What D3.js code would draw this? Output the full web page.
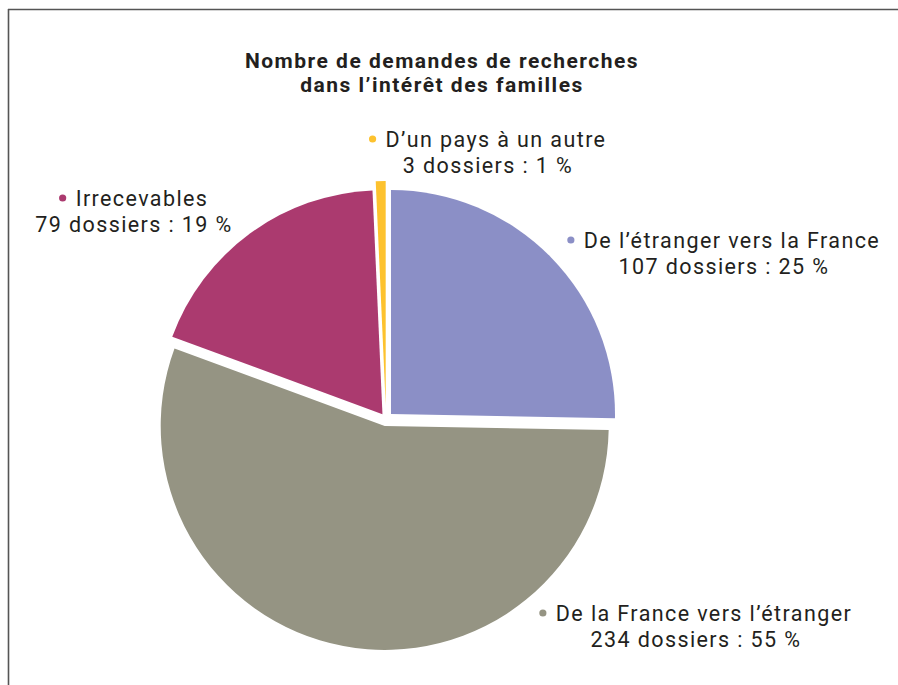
<!DOCTYPE html>
<html>
<head>
<meta charset="utf-8">
<script src="https://cdn.jsdelivr.net/npm/d3@7"></script>
<style>
  html, body { margin: 0; padding: 0; background: #fff; }
  svg { display: block; }
</style>
</head>
<body>
<svg id="chart"></svg>
<script>
// data
const categories = [
  "De l’étranger vers la France",
  "De la France vers l’étranger",
  "Irrecevables",
  "D’un pays à un autre"
];
const dossiers = [107, 234, 79, 3];
const percents = [25, 55, 19, 1];
const titleLines = ["Nombre de demandes de recherches", "dans l’intérêt des familles"];

// styling / layout
const colors = ["#8b8fc6", "#959483", "#ab3a6f", "#fdc22e"];
const explode = [7, 7, 6, 14];
const labelPos = [
  { x: 724, y: 248 },
  { x: 696, y: 621 },
  { x: 134, y: 206 },
  { x: 488, y: 147 }
];

const width = 898;
const height = 685;
const cx = 386, cy = 419, radius = 224;
const font = "Roboto, 'DejaVu Sans', sans-serif";
const labelSize = 21.5;
const lineGap = 25.5;

const svg = d3.select("#chart")
  .attr("width", width)
  .attr("height", height);

// frame (top and left rules)
svg.append("line")
  .attr("x1", 8).attr("x2", width)
  .attr("y1", 9.5).attr("y2", 9.5)
  .attr("stroke", "#555").attr("stroke-width", 1.6);
svg.append("line")
  .attr("x1", 8.5).attr("x2", 8.5)
  .attr("y1", 9).attr("y2", height)
  .attr("stroke", "#555").attr("stroke-width", 1.6);

// title
svg.append("g")
  .selectAll("text")
  .data(titleLines)
  .enter()
  .append("text")
  .attr("x", 442)
  .attr("y", (d, i) => 68 + i * 24)
  .attr("text-anchor", "middle")
  .attr("font-family", font)
  .attr("font-size", "21px")
  .attr("font-weight", "bold")
  .attr("letter-spacing", "1.5px")
  .attr("fill", "#231f20")
  .text(d => d);

const slices = categories.map((c, i) => ({
  name: c,
  value: dossiers[i],
  pct: percents[i],
  color: colors[i],
  offset: explode[i],
  label: labelPos[i]
}));

const pie = d3.pie()
  .sort(null)
  .value(d => d.value);

const arc = d3.arc()
  .innerRadius(0)
  .outerRadius(radius);

const arcs = pie(slices);

const g = svg.append("g")
  .attr("transform", `translate(${cx},${cy})`);

g.selectAll("path")
  .data(arcs)
  .enter()
  .append("path")
  .attr("d", arc)
  .attr("fill", d => d.data.color)
  .attr("transform", d => {
    const mid = (d.startAngle + d.endAngle) / 2;
    const dx = Math.sin(mid) * d.data.offset;
    const dy = -Math.cos(mid) * d.data.offset;
    return `translate(${dx},${dy})`;
  });

// labels: bullet + name, then count line
const bulletGap = 16;
const label = svg.selectAll(".lbl")
  .data(arcs)
  .enter()
  .append("g")
  .attr("class", "lbl");

label.each(function(d) {
  const sel = d3.select(this);
  const p = d.data.label;

  const name = sel.append("text")
    .attr("font-family", font)
    .attr("font-size", labelSize + "px")
    .attr("letter-spacing", "1.4px")
    .attr("fill", "#231f20")
    .attr("y", p.y)
    .text(d.data.name);

  const w = name.node().getComputedTextLength();
  const left = p.x - (w + bulletGap) / 2;
  name.attr("x", left + bulletGap);

  sel.append("circle")
    .attr("cx", left + 3)
    .attr("cy", p.y - 8)
    .attr("r", 3.6)
    .attr("fill", d.data.color);

  sel.append("text")
    .attr("x", p.x)
    .attr("y", p.y + lineGap)
    .attr("text-anchor", "middle")
    .attr("font-family", font)
    .attr("font-size", labelSize + "px")
    .attr("letter-spacing", "1.4px")
    .attr("fill", "#231f20")
    .text(`${d.data.value} dossiers : ${d.data.pct} %`);
});
</script>
</body>
</html>
